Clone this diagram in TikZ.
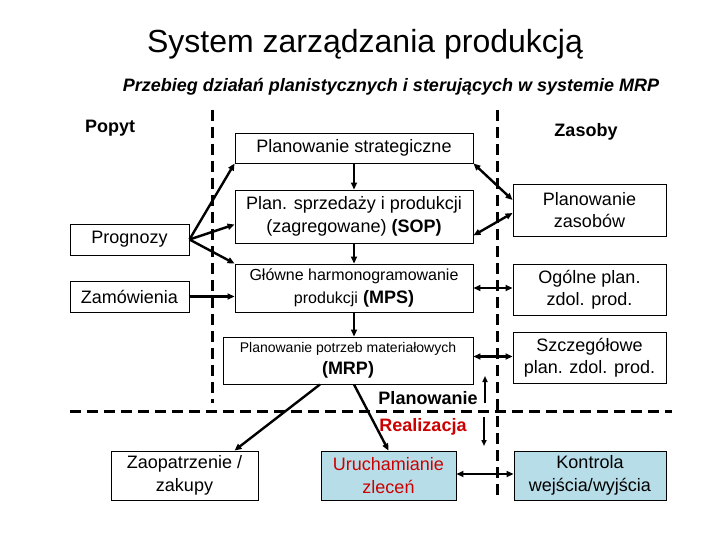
\documentclass[tikz,border=0pt]{standalone}
\usepackage{fontspec}
\setmainfont{Liberation Sans}
\usetikzlibrary{arrows.meta}
\definecolor{boxblue}{HTML}{B7DEE8}
\definecolor{darkred}{HTML}{CC0000}
\tikzset{
  box/.style={draw=black, line width=0.9pt, inner sep=0pt, align=center,
    font=\fontsize{18}{22.5}\selectfont},
  bluebox/.style={box, fill=boxblue},
  conn/.style={line width=2.4pt, -{Triangle[length=7pt,width=6pt]}},
  dconn/.style={line width=2.4pt, {Triangle[length=7pt,width=6pt]}-{Triangle[length=7pt,width=6pt]}},
  thinconn/.style={line width=1.6pt, -{Triangle[length=6pt,width=5pt]}},
  divider/.style={line width=3pt, dash pattern=on 11pt off 6pt},
  lbl/.style={inner sep=0pt, font=\fontsize{18}{22}\selectfont\bfseries}
}
\begin{document}
\begin{tikzpicture}[x=1pt,y=-1pt]
\useasboundingbox (0,0) rectangle (720,540);

% titles
\node[inner sep=0pt, font=\fontsize{32}{36}\selectfont] (title) at (365,44) {System zarządzania produkcją};
\node[inner sep=0pt, font=\fontsize{18}{22}\selectfont\bfseries\itshape] (sub) at (391,87) {Przebieg działań planistycznych i sterujących w systemie MRP};
\node[lbl] (popyt) at (110,128) {Popyt};
\node[lbl] (zasoby) at (586,132) {Zasoby};

% dividers
\coordinate (l1) at (212,110); \coordinate (l2) at (212,403);
\coordinate (r1) at (497,110); \coordinate (r2) at (497,500);
\coordinate (h1) at (70,411);  \coordinate (h2) at (672,411);
\draw[divider] (l1) -- (l2);
\draw[divider] (r1) -- (r2);
\draw[divider] (h1) -- (h2);

% central column
\node[box, minimum width=238pt, minimum height=30pt] (strat) at (354,148) {Planowanie strategiczne};
\node[box, minimum width=238pt, minimum height=53pt] (sop) at (354,216.5) {Plan. sprzedaży i produkcji\\(zagregowane) \textbf{(SOP)}};
\node[box, minimum width=238pt, minimum height=48pt] (mps) at (354,288) {{\fontsize{16}{20}\selectfont Główne harmonogramowanie}\\{\fontsize{16}{20}\selectfont produkcji} \textbf{(MPS)}};
\node[box, minimum width=250pt, minimum height=47pt] (mrp) at (348,360.5) {{\fontsize{14}{21}\selectfont Planowanie potrzeb materiałowych}\\\textbf{(MRP)}};

% left column
\node[box, minimum width=119pt, minimum height=31pt] (prog) at (129.5,239.5) {Prognozy};
\node[box, minimum width=119pt, minimum height=31pt] (zam) at (129.5,296.5) {Zamówienia};

% right column
\node[box, minimum width=153pt, minimum height=52pt] (zas) at (589.5,210) {Planowanie\\zasobów};
\node[box, minimum width=153pt, minimum height=51pt] (ogol) at (589.5,289.5) {Ogólne plan.\\zdol. prod.};
\node[box, minimum width=153pt, minimum height=51pt] (szcz) at (589.5,357.5) {Szczegółowe\\plan. zdol. prod.};

% bottom row
\node[box, minimum width=147pt, minimum height=49pt] (zaop) at (184.5,475.5) {Zaopatrzenie /\\zakupy};
\node[bluebox, minimum width=135pt, minimum height=49pt, text=darkred] (uruch) at (388.5,475.5) {Uruchamianie\\zleceń};
\node[bluebox, minimum width=152pt, minimum height=49pt] (kontr) at (590,475.5) {Kontrola\\wejścia/wyjścia};

% labels
\node[lbl] (plan) at (428,398) {Planowanie};
\node[lbl, text=darkred] (real) at (423,427) {Realizacja};

% connectors: left
\draw[conn] (prog.east) -- (strat.south west);
\draw[conn] (prog.east) -- ([yshift=-8pt]sop.west);
\draw[conn] (prog.east) -- (mps.north west);
\draw[conn] (zam.east) -- (zam.east -| mps.west);

% connectors: central chain
\draw[conn] (strat.south) -- (sop.north);
\draw[conn] (sop.south) -- (mps.north);
\draw[conn] (mps.south) -- (mps.south |- mrp.north);

% connectors: right
\draw[dconn] (strat.south east) -- ([yshift=10pt]zas.west);
\draw[dconn] ([yshift=8pt]sop.south east) -- ([yshift=-3pt]zas.west);
\draw[dconn] (mps.east) -- (mps.east -| ogol.west);
\draw[dconn] ([yshift=4pt]mrp.east) -- ([yshift=4pt]mrp.east -| szcz.west);

% connectors: bottom
\draw[conn] ([xshift=-28pt]mrp.south) -- ([xshift=50pt]zaop.north);
\draw[conn] ([xshift=6pt]mrp.south) -- (uruch.north);
\draw[dconn] ([yshift=1.5pt]uruch.east) -- ([yshift=1.5pt]uruch.east -| kontr.west);

% planning / realisation arrows
\coordinate (up1) at (485,403); \coordinate (up2) at (485,376);
\coordinate (dn1) at (484,417); \coordinate (dn2) at (484,446);
\draw[thinconn] (up1) -- (up2);
\draw[thinconn] (dn1) -- (dn2);
\end{tikzpicture}
\end{document}
